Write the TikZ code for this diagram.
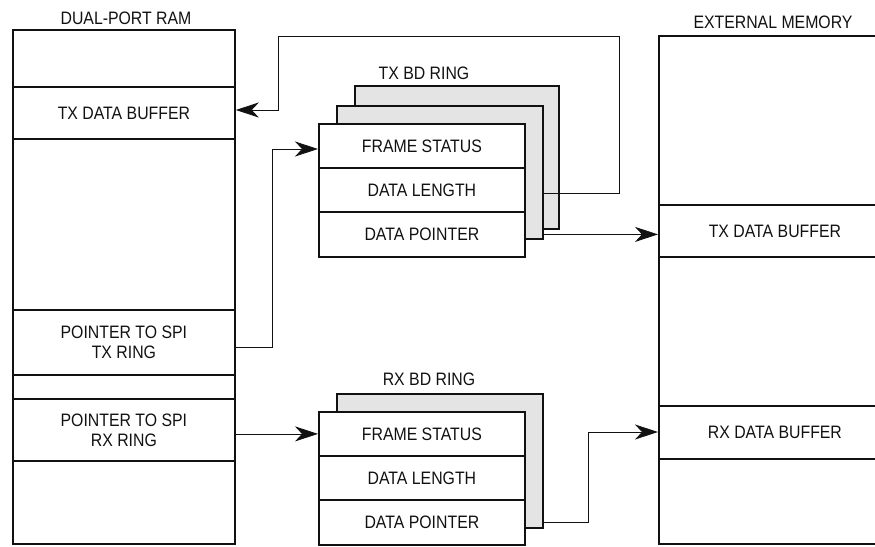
\documentclass[tikz,border=0pt]{standalone}
\usepackage{fontspec}
\setmainfont{Liberation Sans}[FakeStretch=0.88]
\usetikzlibrary{arrows.meta}
\definecolor{ringgray}{HTML}{E4E4E4}
\definecolor{ink}{HTML}{111111}
\begin{document}
\begin{tikzpicture}[x=1pt,y=-1pt,
  txt/.style={font=\fontsize{18}{20}\selectfont, text=ink},
  box/.style={draw=ink, line width=1.8pt, inner sep=0pt, anchor=north west, txt, align=center},
  backbox/.style={box, fill=ringgray},
  lbl/.style={txt, inner sep=0pt},
  conn/.style={draw=ink, line width=0.8pt, -{Stealth[length=23pt,width=15pt,inset=7pt]}}]
\useasboundingbox (0,0) rectangle (875,546);
\clip (0,0) rectangle (875,546);

% ---------- Dual-port RAM ----------
\node[lbl] (dplabel) at (126,18) {DUAL-PORT RAM};
\node[box, minimum width=222pt, minimum height=514pt] (dpram) at (12,29) {};
\node[box, minimum width=222pt, minimum height=52pt] (txbuf) at (12,86) {TX DATA BUFFER};
\node[box, minimum width=222pt, minimum height=65pt] (ptrtx) at (12,309) {POINTER TO SPI\\ TX RING};
\node[box, minimum width=222pt, minimum height=62pt] (ptrrx) at (12,398) {POINTER TO SPI\\ RX RING};

% ---------- External memory ----------
\node[lbl] (emlabel) at (773,22) {EXTERNAL MEMORY};
\node[box, minimum width=240pt, minimum height=508pt] (ext) at (658,35) {};
\node[box, minimum width=232pt, minimum height=52pt] (etx) at (658,204) {TX DATA BUFFER};
\node[box, minimum width=232pt, minimum height=53pt] (erx) at (658,405) {RX DATA BUFFER};

% ---------- TX BD ring ----------
\node[lbl] (txlabel) at (424,73) {TX BD RING};
\node[backbox, minimum width=204pt, minimum height=143pt] (txback) at (354,85) {};
\node[backbox, minimum width=206pt, minimum height=133pt] (txmid) at (336,105) {};
\node[box, fill=white, minimum width=206pt, minimum height=133pt] (txfront) at (318,123) {};
\node[box, minimum width=206pt, minimum height=44pt] (fstat) at (318,123) {FRAME STATUS};
\node[box, minimum width=206pt, minimum height=44pt] (dlen) at (318,167) {DATA LENGTH};
\node[box, minimum width=206pt, minimum height=45pt] (dptr) at (318,211) {DATA POINTER};

% ---------- RX BD ring ----------
\node[lbl] (rxlabel) at (429,379) {RX BD RING};
\node[backbox, minimum width=206pt, minimum height=134pt] (rxmid) at (336,393) {};
\node[box, fill=white, minimum width=206pt, minimum height=133pt] (rxfront) at (318,411) {};
\node[box, minimum width=206pt, minimum height=44pt] (rfstat) at (318,411) {FRAME STATUS};
\node[box, minimum width=206pt, minimum height=44pt] (rdlen) at (318,455) {DATA LENGTH};
\node[box, minimum width=206pt, minimum height=45pt] (rdptr) at (318,499) {DATA POINTER};

% ---------- Connectors ----------
\coordinate (fbs) at (543,193);
\coordinate (fbtop) at (619,36);
\coordinate (fbleft) at (278,110);
\draw[conn] (fbs) -| (fbtop) -| (fbleft) -- (txbuf.east |- fbleft);

\coordinate (ptxturn) at (272,149);
\draw[conn] ([yshift=-4.5pt]ptrtx.east) -| (ptxturn) -- (fstat.west |- ptxturn);

\draw[conn] (txmid.east |- dptr.east) -- (etx.west |- dptr.east);

\draw[conn] (ptrrx.east |- rfstat.west) -- (rfstat.west);

\coordinate (rxturn) at (588,432);
\draw[conn] (rxmid.east |- rdptr.east) -| (rxturn) -- (erx.west |- rxturn);
\end{tikzpicture}
\end{document}
